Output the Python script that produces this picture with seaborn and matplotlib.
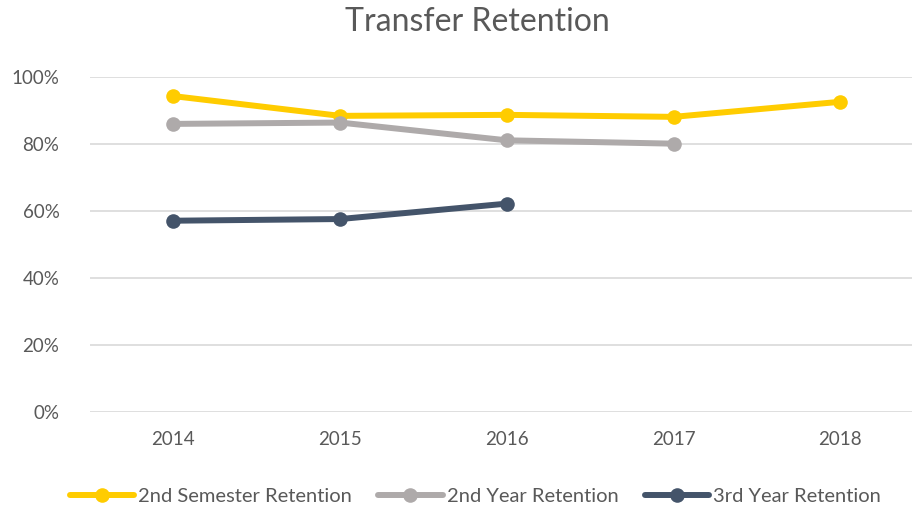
import pandas as pd
import numpy as np
import matplotlib
matplotlib.use("Agg")
import matplotlib.pyplot as plt
import seaborn as sns

# data
years = ["2014", "2015", "2016", "2017", "2018"]
sem2_retention = [0.943, 0.884, 0.887, 0.881, 0.926]
year2_retention = [0.860, 0.864, 0.811, 0.801, np.nan]
year3_retention = [0.571, 0.576, 0.622, np.nan, np.nan]
series_names = ["2nd Semester Retention", "2nd Year Retention", "3rd Year Retention"]
series_colors = ["#FFCC00", "#AEAAAA", "#44546A"]

def main():
    sns.set_theme(style="white")
    plt.rcParams["font.family"] = ["Lato", "DejaVu Sans"]

    fig = plt.figure(figsize=(9.14, 5.11), dpi=100)
    ax = fig.add_axes([90 / 914, 99 / 511, 822 / 914, 335 / 511])

    x = np.arange(len(years))
    for name, vals, col in zip(series_names,
                               [sem2_retention, year2_retention, year3_retention],
                               series_colors):
        df = pd.DataFrame({"x": x, "y": vals}).dropna()
        sns.lineplot(data=df, x="x", y="y", ax=ax, color=col, linewidth=4.3,
                     marker="o", markersize=10.5, markeredgewidth=0, label=name,
                     solid_capstyle="round")

    ax.set_xlim(-0.5, 4.43)
    ax.set_ylim(0, 1.0)
    ax.set_yticks(np.arange(0, 1.01, 0.2))
    ax.set_yticklabels([f"{int(round(v * 100))}%" for v in np.arange(0, 1.01, 0.2)])
    ax.set_xticks(x)
    ax.set_xticklabels(years)
    ax.set_xlabel("")
    ax.set_ylabel("")
    ax.tick_params(axis="both", length=0, labelsize=13.5, labelcolor="#595959")
    ax.tick_params(axis="x", pad=14)
    ax.tick_params(axis="y", pad=22)
    ax.grid(axis="y", color="#D9D9D9", linewidth=1.2)
    ax.set_axisbelow(True)
    for s in ax.spines.values():
        s.set_visible(False)

    fig.text(0.522, 0.957, "Transfer Retention", ha="center", va="center",
             fontsize=23, color="#595959")

    ax.get_legend().remove()
    handles, labels = ax.get_legend_handles_labels()
    fig.legend(handles, labels, loc="center", bbox_to_anchor=(0.52, 0.029),
               ncol=3, frameon=False, fontsize=14.5, labelcolor="#595959",
               handlelength=3.2, handletextpad=0.2, columnspacing=1.3)

    fig.savefig("out.png", dpi=100)

if __name__ == "__main__":
    main()
